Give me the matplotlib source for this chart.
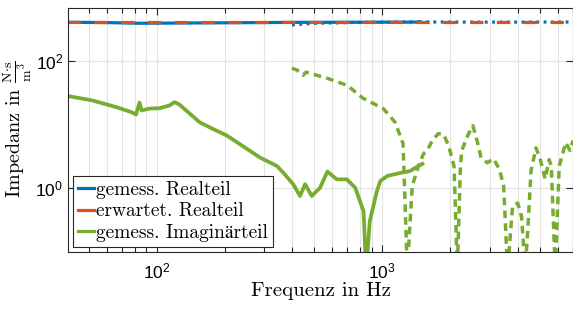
import matplotlib
matplotlib.use("Agg")
import matplotlib.pyplot as plt
from matplotlib.lines import Line2D
from matplotlib.ticker import LogLocator, NullLocator

# ---------------- data ----------------
# measured real part, low range (solid)
re_low_f = [40, 60, 84, 120, 200, 400, 800, 1500]
re_low_v = [410, 405, 395, 398, 402, 408, 410, 412]
# measured real part, mid range (dotted)
re_mid_f = [398, 432, 493, 588, 800, 1480]
re_mid_v = [373, 380, 394, 400, 408, 416]
# measured real part, high range (dash-dot)
re_high_f = [1450, 2000, 3000, 5000, 7000]
re_high_v = [415, 413, 412, 413, 413]
# expected real part (rho*c)
exp_f = [40, 7000]
exp_v = [413, 413]

# measured imaginary part, low range (solid)
im_low_f = [40.6, 52, 66.4, 77.4, 81.1, 84, 85.8, 93.1, 103, 114, 120, 126, 140,
            155, 177, 205, 234, 287, 341, 364, 403, 432, 455, 487, 530, 571, 629,
            697, 759, 826, 849, 880, 947, 980, 1052, 1202, 1331, 1445, 1506]
im_low_v = [28.1, 24.0, 18.8, 15.7, 14.4, 22.3, 16.7, 17.9, 18.1, 20.0, 22.6, 20.8, 15.0,
            10.9, 8.6, 6.7, 4.9, 3.03, 2.23, 1.75, 1.15, 0.75, 1.15, 0.75, 1.01, 1.82, 1.37,
            1.37, 1.01, 0.43, 0.05, 0.3, 0.9, 1.29, 1.55, 1.73, 1.86, 2.23, 2.4]
# measured imaginary part, mid/high range (dashed)
im_mid_f = [398, 420, 446, 459, 570, 699, 823, 1010, 1141, 1236, 1291, 1357, 1445, 1525,
            1582, 1665, 1770, 1870, 1970, 2080, 2150, 2220, 2250, 2390, 2520, 2630, 2740,
            2920, 3110, 3300, 3450, 3590, 3780, 3980, 4140, 4300, 4450, 4560, 4800, 5030,
            5270, 5490, 5610, 5840, 6080, 6500, 6790, 7000]
im_mid_v = [77.4, 72, 60, 67, 53.7, 41.6, 25.9, 17.9, 10.8, 5.0, 0.05, 1.08, 2.2, 3.5,
            3.9, 5.6, 7.2, 7.0, 4.6, 2.2, 0.05, 2.2, 3.9, 6.7, 9.6, 5.6, 3.0,
            2.5, 2.9, 2.0, 1.08, 0.05, 0.52, 0.58, 0.36, 0.05, 0.36, 1.86, 4.3, 2.7,
            1.39, 2.8, 2.2, 0.05, 2.2, 5.2, 3.9, 5.6]

labels = ["gemess. Realteil", "erwartet. Realteil", "gemess. Imaginärteil"]
x_major = [100, 1000]
y_major = [1, 100]
xlim = (40.5, 7000)
ylim = (0.1, 700)

# ---------------- style ----------------
C_BLUE = "#0072BD"
C_ORANGE = "#D95319"
C_GREEN = "#77AC30"
SERIF = ["cmr10", "STIXGeneral", "DejaVu Serif"]
LW = 2.3

fig = plt.figure(figsize=(5.73, 3.10), dpi=100)
ax = fig.add_axes([68 / 573, 1 - 251.5 / 310, 505 / 573, 244 / 310])
ax.set_xscale("log")
ax.set_yscale("log")

ax.plot(re_low_f, re_low_v, color=C_BLUE, lw=LW, solid_capstyle="butt")
ax.plot(re_mid_f, re_mid_v, color=C_BLUE, lw=LW, dashes=(0.9, 1.4))
ax.plot(re_high_f, re_high_v, color=C_BLUE, lw=LW, dashes=(0.9, 1.4))
ax.plot(exp_f, exp_v, color=C_ORANGE, lw=LW, dashes=(4.2, 4.2))
ax.plot(im_low_f, im_low_v, color=C_GREEN, lw=LW + 0.4)
ax.plot(im_mid_f, im_mid_v, color=C_GREEN, lw=LW + 0.2, dashes=(2.2, 1.5))

ax.set_xlim(*xlim)
ax.set_ylim(*ylim)
ax.set_xticks(x_major)
ax.xaxis.set_minor_locator(LogLocator(base=10, subs=range(2, 10)))
ax.set_yticks(y_major)
ax.yaxis.set_minor_locator(NullLocator())

ax.grid(True, which="both", axis="x", color="#e3e3e3", lw=0.8)
ax.grid(True, which="major", axis="y", color="#e3e3e3", lw=0.8)
ax.set_axisbelow(True)

for s in ax.spines.values():
    s.set_color("#262626")
    s.set_linewidth(0.8)
ax.tick_params(which="both", direction="in", top=True, right=True, color="#262626",
               width=0.8)
ax.tick_params(which="major", length=5, labelsize=12.5)
ax.tick_params(axis="y", which="major", pad=3.5)
ax.tick_params(axis="x", which="major", pad=7)
ax.tick_params(which="minor", length=3.5)
for lab in ax.get_xticklabels() + ax.get_yticklabels():
    lab.set_family("Liberation Sans")

ax.set_xlabel("Frequenz in Hz", fontsize=15, family=SERIF)
ax.xaxis.set_label_coords(0.5, -0.125)
yl = ax.set_ylabel(r"Impedanz in $\frac{\mathrm{N{\cdot}s}}{\mathrm{m^3}}$",
                   fontsize=14.5, family=SERIF)
yl.set_math_fontfamily("cm")
ax.yaxis.set_label_coords(-0.068, 0.5)

handles = [Line2D([], [], color=c, lw=LW) for c in (C_BLUE, C_ORANGE, C_GREEN)]
leg = ax.legend(handles, labels, loc="lower left", bbox_to_anchor=(0.0099, 0.018),
                borderaxespad=0, prop={"family": SERIF, "size": 14},
                handlelength=0.85, handletextpad=0.08, labelspacing=0.2,
                borderpad=0.25, fancybox=False, framealpha=1,
                edgecolor="#262626")
leg.get_frame().set_linewidth(0.8)

fig.savefig("out.png", dpi=100)
